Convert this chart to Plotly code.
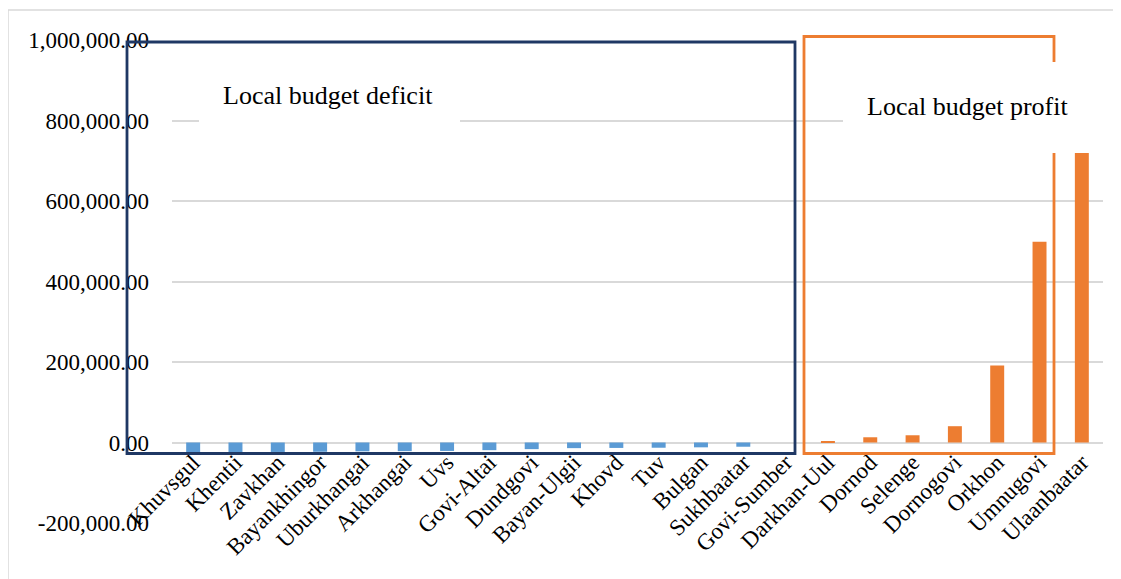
import plotly.graph_objects as go

categories = ["Khuvsgul", "Khentii", "Zavkhan", "Bayankhingor", "Uburkhangai",
              "Arkhangai", "Uvs", "Govi-Altai", "Dundgovi", "Bayan-Ulgii", "Khovd",
              "Tuv", "Bulgan", "Sukhbaatar", "Govi-Sumber", "Darkhan-Uul", "Dornod",
              "Selenge", "Dornogovi", "Orkhon", "Umnugovi", "Ulaanbaatar"]
values = [-24500, -24000, -23500, -23000, -22000, -21500, -21000, -19000,
          -16500, -14000, -13500, -13000, -12000, -10500, 0, 3000, 13000,
          18000, 40500, 191000, 499000, 720000]
y_ticks = [-200000, 0, 200000, 400000, 600000, 800000, 1000000]
y_tick_text = [f"{v:,.2f}" for v in y_ticks]
y_range = [-200000, 1000000]

BLUE = "#5B9BD5"
ORANGE = "#ED7D31"
NAVY = "#1F3864"
GRID = "#D9D9D9"
FONT = "Liberation Serif"

# page body has an 8px margin; figure sized to fit the window
OFF = 8
W, H = 1121 - OFF, 579 - OFF
ML, MR, MT, MB = 164, 18, 32, 56
PW, PH = W - ML - MR, H - MT - MB


def fx(px):
    """window pixel x -> paper fraction"""
    return (px - OFF - ML) / PW


def fy(py):
    """window pixel y -> paper fraction"""
    return (H - MB - (py - OFF)) / PH


colors = [BLUE if v < 0 else ORANGE for v in values]

fig = go.Figure(go.Bar(x=categories, y=values, marker_color=colors,
                       marker_line_width=0, showlegend=False))

zero_pos = (0 - y_range[0]) / (y_range[1] - y_range[0])

fig.update_layout(
    width=W, height=H,
    margin=dict(l=ML, r=MR, t=MT, b=MB),
    paper_bgcolor="white", plot_bgcolor="white",
    bargap=0.67,
    font=dict(family=FONT, color="black", size=20),
    xaxis=dict(anchor="free", position=zero_pos, showline=False, showgrid=False,
               tickangle=-45, ticks="", tickfont=dict(size=23, family=FONT),
               ticklabelstandoff=1),
    yaxis=dict(range=y_range, tickvals=y_ticks, ticktext=y_tick_text,
               showgrid=True, gridcolor=GRID, gridwidth=1.5,
               zeroline=True, zerolinecolor=GRID, zerolinewidth=1.5,
               showline=False, ticks="", ticklabelstandoff=22,
               tickfont=dict(size=23, family=FONT)),
)

shapes = [
    # outer chart border
    dict(type="rect", xref="paper", yref="paper", x0=fx(8), x1=fx(1140),
         y0=fy(600), y1=fy(10), line=dict(color=GRID, width=1.5),
         fillcolor="rgba(0,0,0,0)", layer="below"),
    # deficit box
    dict(type="rect", xref="paper", yref="paper", x0=fx(127), x1=fx(795),
         y0=fy(453.5), y1=fy(42), line=dict(color=NAVY, width=2.8), layer="above"),
    # profit box
    dict(type="rect", xref="paper", yref="paper", x0=fx(804), x1=fx(1054),
         y0=fy(453.5), y1=fy(36.5), line=dict(color=ORANGE, width=2.8), layer="above"),
    # white text backgrounds
    dict(type="rect", xref="paper", yref="paper", x0=fx(199), x1=fx(460),
         y0=fy(135), y1=fy(62), line=dict(width=0), fillcolor="white", layer="above"),
    dict(type="rect", xref="paper", yref="paper", x0=fx(843), x1=fx(1105),
         y0=fy(153), y1=fy(62), line=dict(width=0), fillcolor="white", layer="above"),
]
fig.update_layout(shapes=shapes)

fig.add_annotation(text="Local budget deficit", xref="paper", yref="paper",
                   x=fx(328), y=fy(96), xanchor="center", yanchor="middle",
                   showarrow=False, font=dict(size=26, family=FONT, color="black"))
fig.add_annotation(text="Local budget profit", xref="paper", yref="paper",
                   x=fx(967), y=fy(107), xanchor="center", yanchor="middle",
                   showarrow=False, font=dict(size=26, family=FONT, color="black"))

fig.write_html("out.html")
